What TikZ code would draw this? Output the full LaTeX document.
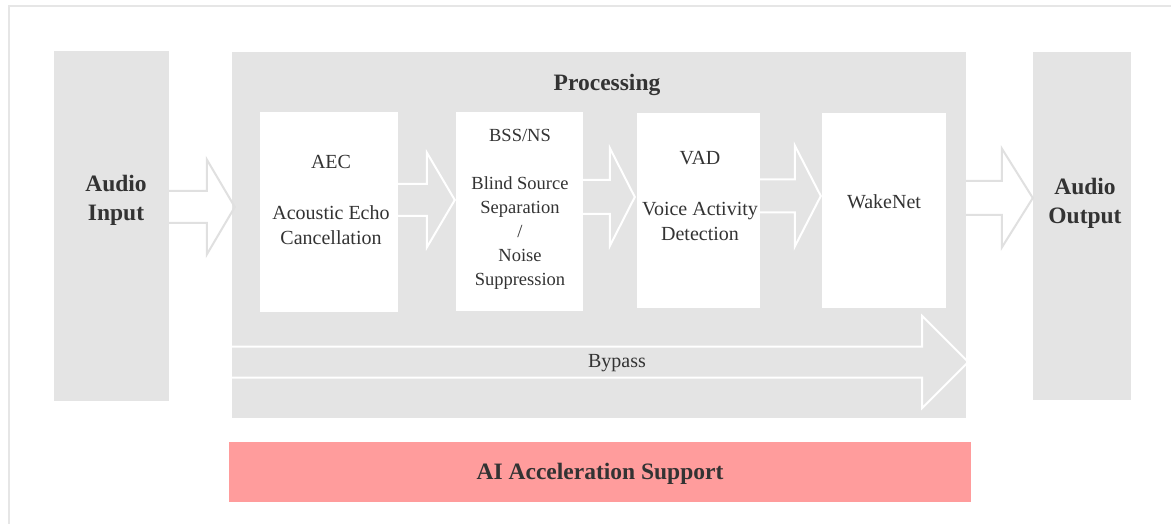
\documentclass[tikz,border=0pt]{standalone}
\usepackage{fontspec}
\setmainfont{Liberation Serif}
\definecolor{boxgray}{HTML}{E4E4E4}
\definecolor{framegray}{HTML}{E6E6E6}
\definecolor{arrgray}{HTML}{E0E0E0}
\definecolor{txt}{HTML}{333333}
\definecolor{aipink}{HTML}{FF9C9C}
\newcommand\blkarrow[7]{%
  \pgfmathsetmacro\arYa{#4-#5}\pgfmathsetmacro\arYb{#4+#5}%
  \pgfmathsetmacro\arHa{#4-#6}\pgfmathsetmacro\arHb{#4+#6}%
  \coordinate (ta) at (#2);
  \coordinate (tp) at (#3);
  \coordinate (hb) at ([xshift=-#7pt]tp);
  \draw[#1] (ta |- 0,\arYa) -- (hb |- 0,\arYa) -- (hb |- 0,\arHa) -- (tp |- 0,#4)
     -- (hb |- 0,\arHb) -- (hb |- 0,\arYb) -- (ta |- 0,\arYb);
}
\begin{document}
\begin{tikzpicture}[x=1pt,y=-1pt,
  box/.style={fill=boxgray,draw=none,inner sep=0pt},
  wbox/.style={fill=white,draw=none,inner sep=0pt},
  reg/.style={text=txt,font=\fontsize{20}{25.5}\selectfont,align=center,inner sep=0pt},
  bld/.style={text=txt,font=\fontsize{23.5}{29}\selectfont\bfseries,align=center,inner sep=0pt},
  outarrow/.style={draw=arrgray,line width=2pt,line join=miter},
  inarrow/.style={draw=white,line width=2pt,line join=miter}]
\clip (0,0) rectangle (1171,524);
\fill[white] (0,0) rectangle (1171,524);
\draw[framegray,line width=2.5pt] (9,6) rectangle (1200,560);

% main boxes
\node[box,minimum width=115pt,minimum height=350pt] (in) at (111.5,226) {};
\node[box,minimum width=734pt,minimum height=366pt] (proc) at (599,235) {};
\node[box,minimum width=98pt,minimum height=348pt] (out) at (1082,226) {};
\node[wbox,minimum width=138pt,minimum height=200pt] (aec) at (329,212) {};
\node[wbox,minimum width=127pt,minimum height=199pt] (bss) at (519.5,211.5) {};
\node[wbox,minimum width=123pt,minimum height=195pt] (vad) at (698.5,210.5) {};
\node[wbox,minimum width=124pt,minimum height=195pt] (wake) at (884,210.5) {};
\node[fill=aipink,draw=none,inner sep=0pt,minimum width=742pt,minimum height=60pt,
      text=txt,font=\fontsize{23.5}{29}\selectfont\bfseries] (ai) at (600,472) {\raisebox{-7.5pt}[0pt][0pt]{AI Acceleration Support}};

% arrows
\blkarrow{outarrow}{in.east}{[xshift=3pt]proc.west}{207}{16}{47.5}{28}
\blkarrow{inarrow}{aec.east}{[xshift=-1pt]bss.west}{200}{16}{47.5}{28}
\blkarrow{inarrow}{bss.east}{[xshift=-2pt]vad.west}{197}{17}{49}{25}
\blkarrow{inarrow}{vad.east}{[xshift=-1pt]wake.west}{196}{16.5}{50.5}{26}
\blkarrow{outarrow}{proc.east}{out.west}{198}{17}{49.5}{31}
\blkarrow{inarrow}{proc.west}{[xshift=2pt]proc.east}{362}{15.5}{46}{46}

% texts
\node[bld] (inT) at (116,200) {Audio\\Input};
\node[bld] (outT) at (1085,203.5) {Audio\\Output};
\node[bld] (procT) at (607,84.5) {Processing};
\node[reg] (aecT) at (331,200) {AEC\\ \\Acoustic Echo\\Cancellation};
\node[reg,font=\fontsize{18.5}{24}\selectfont] (bssT) at (520,209.5) {BSS/NS\\ \\Blind Source\\Separation\\/\\Noise\\Suppression};
\node[reg] (vadT) at (700,196) {VAD\\ \\Voice Activity\\Detection};
\node[reg] (wakeT) at (884,202) {WakeNet};
\node[reg] (bypT) at (617,363.5) {Bypass};
\end{tikzpicture}
\end{document}
